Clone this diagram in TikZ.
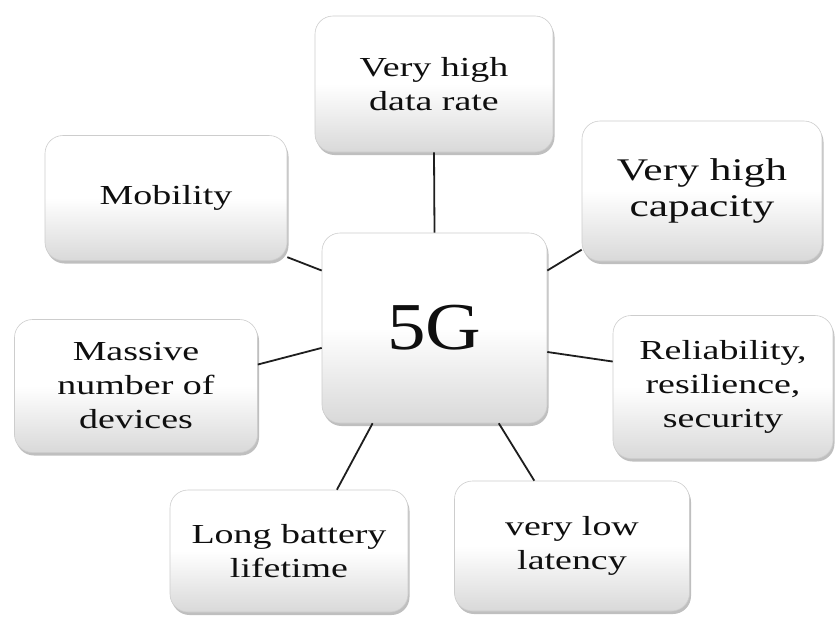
\documentclass[tikz,border=0pt]{standalone}
\usepackage{fontspec}
\setmainfont{Liberation Serif}
\newfontfamily\boxfont[FakeStretch=1.38]{Liberation Serif}
\newfontfamily\hubfont[FakeStretch=1.15]{Liberation Serif}
\usetikzlibrary{shadows}
\definecolor{corBorda}{RGB}{205,205,205}
\definecolor{corTexto}{RGB}{15,15,15}
\definecolor{corLinha}{RGB}{30,30,30}

\begin{document}
\begin{tikzpicture}[x=1pt, y=-1pt,
    feat/.style={draw=corBorda, line width=0.6pt, rounded corners=18pt,
                 top color=white, bottom color=black!15, middle color=white,
                 drop shadow={shadow xshift=1.5pt, shadow yshift=-3pt, fill=black!50, opacity=0.5},
                 align=center, inner sep=0pt, text=corTexto,
                 font=\boxfont\fontsize{27.5}{34}\selectfont},
    link/.style={draw=corLinha, line width=1.8pt}
]
\useasboundingbox (0,0) rectangle (837,616);

% hub
\node[feat, minimum width=225pt, minimum height=190pt,
      font=\hubfont\fontsize{67}{70}\selectfont] (hub) at (434.5,328) {5G};

% features around the hub
\node[feat, minimum width=238pt, minimum height=136pt] (rate) at (434,84) {Very high\\data rate};
\node[feat, minimum width=240pt, minimum height=140pt,
      font=\boxfont\fontsize{31.5}{36}\selectfont] (cap) at (702,191) {Very high\\capacity};
\node[feat, minimum width=242pt, minimum height=125pt] (mob) at (166,198) {Mobility};
\node[feat, minimum width=243pt, minimum height=133pt] (mass) at (136,386) {Massive\\number of\\devices};
\node[feat, minimum width=220pt, minimum height=143pt] (rel) at (723,387) {Reliability,\\resilience,\\security};
\node[feat, minimum width=238pt, minimum height=122pt] (batt) at (289,551) {Long battery\\lifetime};
\node[feat, minimum width=235pt, minimum height=130pt] (lat) at (572,546) {very low\\latency};

\draw[link] (hub.90) -- (rate.south);
\draw[link] (hub.153.5) -- (mob.-26.4);
\draw[link] (hub.190) -- (mass.10.7);
\draw[link] (hub.27.3) -- (cap.206.2);
\draw[link] (hub.-12) -- (rel.167.7);
\draw[link] (hub.237) -- (batt.52.4);
\draw[link] (hub.304) -- (lat.120.3);
\end{tikzpicture}
\end{document}
